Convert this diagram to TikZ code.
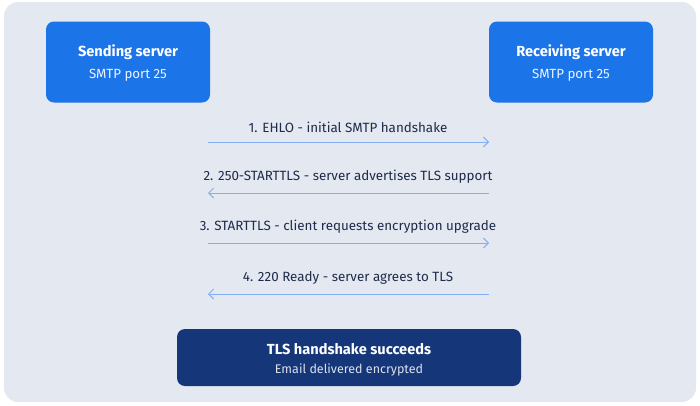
\documentclass[tikz,border=0pt]{standalone}
\usepackage{fontspec}
\setmainfont{Fira Sans}
\usetikzlibrary{arrows.meta,positioning}
\definecolor{panelbg}{HTML}{E4E9F1}
\definecolor{srvblue}{HTML}{1B74E8}
\definecolor{oknavy}{HTML}{15377A}
\definecolor{msgline}{HTML}{86AEF2}
\definecolor{msgtext}{HTML}{1E2B4A}
\tikzset{
  server/.style={
    fill=srvblue,
    rounded corners=8pt,
    text=white,
    align=center,
    minimum width=164pt,
    minimum height=81pt,
  },
  result/.style={server, fill=oknavy, minimum width=344pt, minimum height=57pt},
  title/.style={font=\bfseries\fontsize{14.6}{17}\selectfont, text=white},
  sub/.style={font=\fontsize{13.3}{15}\selectfont, text=white!92!srvblue},
  msg/.style={font=\fontsize{13.4}{15}\selectfont, text=msgtext, inner sep=0pt},
  arr/.style={-{Straight Barb[length=5pt, width=10pt]}, msgline, line width=1pt},
}

\begin{document}
\begin{tikzpicture}[x=1pt, y=-1pt]
  \useasboundingbox (0,0) rectangle (700,405);
  \fill[panelbg, rounded corners=14pt] (4,2) rectangle (696,402);

  \node[server] (snd) at (128,62) {};
  \node[title] (sndT) at (128,52) {Sending server};
  \node[sub] (sndS) at (128,75) {SMTP port 25};

  \node[server] (rcv) at (571,62) {};
  \node[title] (rcvT) at (571,52) {Receiving server};
  \node[sub] (rcvS) at (571,75) {SMTP port 25};

  % handshake messages
  \node[msg] (m1) at (348,127) {1. EHLO - initial SMTP handshake};
  \node[msg] (m2) at (348,177) {2. 250-STARTTLS - server advertises TLS support};
  \node[msg] (m3) at (348,227) {3. STARTTLS - client requests encryption upgrade};
  \node[msg] (m4) at (348,278) {4. 220 Ready - server agrees to TLS};

  \coordinate (a1) at (208,142); \coordinate (b1) at (489,142);
  \coordinate (a2) at (208,193); \coordinate (b2) at (489,193);
  \coordinate (a3) at (208,243); \coordinate (b3) at (489,243);
  \coordinate (a4) at (208,294); \coordinate (b4) at (489,294);

  \draw[arr] (a1) -- (b1);
  \draw[arr] (b2) -- (a2);
  \draw[arr] (a3) -- (b3);
  \draw[arr] (b4) -- (a4);

  \node[result] (tls) at (349,357.5) {};
  \node[title] (tlsT) at (349,349) {TLS handshake succeeds};
  \node[sub, font=\fontsize{12.5}{14}\selectfont, text=white!85!oknavy] (tlsS) at (349,369.5) {Email delivered encrypted};
\end{tikzpicture}
\end{document}
